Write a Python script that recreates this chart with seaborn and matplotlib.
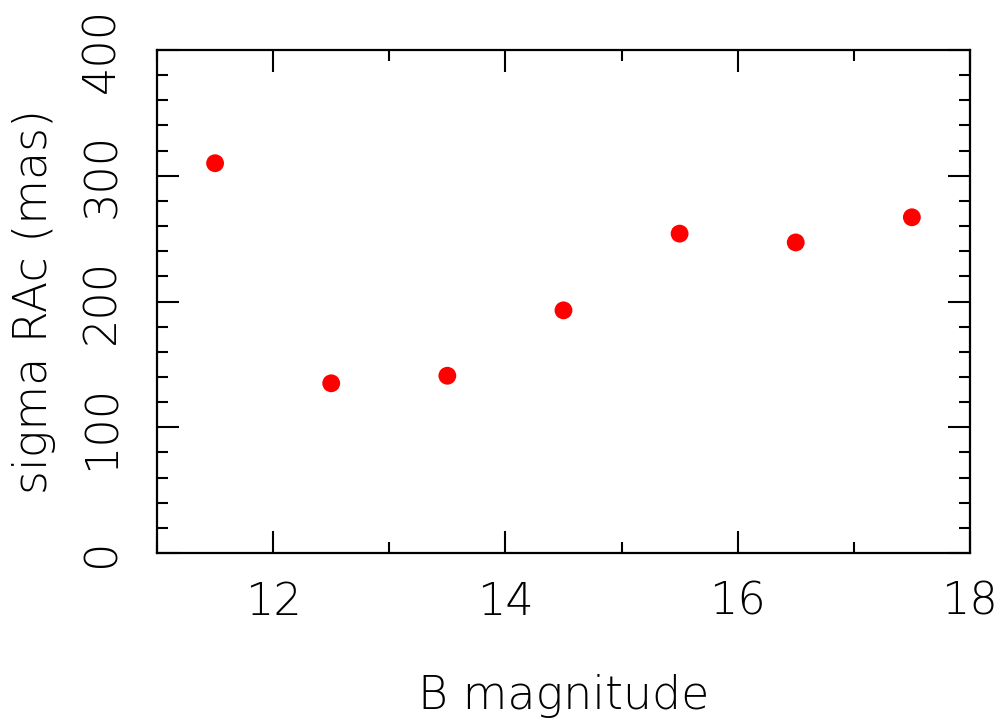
import matplotlib
matplotlib.use("Agg")
import matplotlib.pyplot as plt
import seaborn as sns
import pandas as pd
from matplotlib.ticker import MultipleLocator

b_mag = [11.5, 12.5, 13.5, 14.5, 15.5, 16.5, 17.5]
sigma_rac = [310, 135, 141, 193, 254, 247, 267]

sns.set_style("white")
plt.rcParams['font.family'] = ['DejaVu Sans']
plt.rcParams['font.weight'] = 'light'
plt.rcParams['text.color'] = 'black'
plt.rcParams['axes.labelcolor'] = 'black'
plt.rcParams['xtick.color'] = 'black'
plt.rcParams['ytick.color'] = 'black'

df = pd.DataFrame({"B magnitude": b_mag, "sigma RAc (mas)": sigma_rac})

fig = plt.figure(figsize=(10.02, 7.22), dpi=100)
ax = fig.add_axes([0.1567, 0.234, 0.968 - 0.1567, 0.9307 - 0.234])
sns.scatterplot(data=df, x="B magnitude", y="sigma RAc (mas)", ax=ax,
                color="red", s=165, edgecolor="none", zorder=3)

ax.set_xlim(11, 18)
ax.set_ylim(0, 400)
ax.xaxis.set_major_locator(MultipleLocator(2))
ax.xaxis.set_minor_locator(MultipleLocator(1))
ax.yaxis.set_major_locator(MultipleLocator(100))
ax.yaxis.set_minor_locator(MultipleLocator(20))

for s in ax.spines.values():
    s.set_linewidth(1.6)
    s.set_color("black")

ax.tick_params(which="both", direction="in", top=True, right=True,
               bottom=True, left=True, width=1.5, color="black")
ax.tick_params(which="major", length=16)
ax.tick_params(which="minor", length=8)
ax.tick_params(axis="x", which="major", labelsize=32, pad=20)
ax.tick_params(axis="y", which="major", labelsize=32, pad=24)
for lab in ax.get_yticklabels():
    lab.set_rotation(90)
    lab.set_va("center")

ax.set_xlabel("B magnitude", fontsize=33, labelpad=36, fontweight='light')
ax.set_ylabel("sigma RAc (mas)", fontsize=33, labelpad=18, fontweight='light')
ax.grid(False)

fig.savefig("out.png", dpi=100)
